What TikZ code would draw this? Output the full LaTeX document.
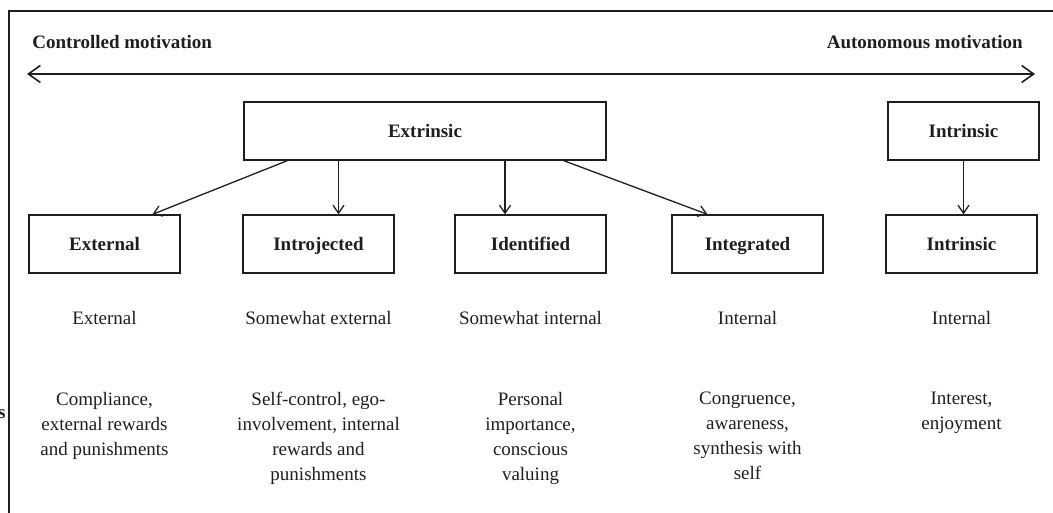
\documentclass[tikz,border=0pt]{standalone}
\usepackage{fontspec}
\setmainfont{Liberation Serif}
\usetikzlibrary{arrows.meta,positioning}
\definecolor{ink}{HTML}{1E1E1E}

\begin{document}
\begin{tikzpicture}[x=0.5pt,y=-0.5pt,font=\fontsize{9.5}{12.5}\selectfont,
  box/.style={draw=ink,line width=0.65pt,minimum width=75.5pt,minimum height=29pt,inner sep=0pt,text height=6.6pt,text depth=0.4pt,font=\fontsize{9.5}{12.5}\selectfont\bfseries,text=ink},
  arr/.style={draw=ink,line width=0.65pt,-{Straight Barb[length=4pt,width=5.5pt]}},
  head/.style={font=\fontsize{9.5}{12.5}\selectfont\bfseries,text=ink,inner sep=0pt},
  desc/.style={align=center,inner sep=0pt,text=ink}]
\useasboundingbox (0,0) rectangle (1053,513);
% frame, cut off at the right and bottom
\draw[ink,line width=1pt] (9,513) -- (9,11) -- (1053,11);
\node[head,anchor=base east] (cut) at (6,418) {s};
% the continuum
\node[head,anchor=west] (ctrl) at (32,42) {Controlled motivation};
\node[head,anchor=east] (auton) at (1023,42) {Autonomous motivation};
\coordinate (lo) at (27,74);
\coordinate (hi) at (1035,74);
\draw[ink,line width=0.8pt,{Straight Barb[length=6pt,width=8.5pt]}-{Straight Barb[length=6pt,width=8.5pt]}] (lo) -- (hi);
% top row
\node[box,minimum width=181pt] (extr) at (425,131) {Extrinsic};
\node[box] (intr) at (963.5,131) {Intrinsic};
% bottom row: box, locus, processes
\foreach \nm/\xx/\lab/\loc/\proc in {ext/104.5/External/External/{Compliance,\\external rewards\\and punishments},
  intro/318.5/Introjected/Somewhat external/{Self-control, ego-\\involvement, internal\\rewards and\\punishments},
  iden/530.5/Identified/Somewhat internal/{Personal\\importance,\\conscious\\valuing},
  integ/747.5/Integrated/Internal/{Congruence,\\awareness,\\synthesis with\\self},
  intrb/961.5/Intrinsic/Internal/{Interest,\\enjoyment}} {
  \node[box] (\nm) at (\xx,244) {\lab};
  \node[desc] (\nm-loc) at (\xx,318) {\loc};
  \node[desc,anchor=north] (\nm-proc) at (\xx,392) {\proc};
}
% arrows down from the two top boxes
\draw[arr] ([xshift=22pt]extr.south west) -- ([xshift=24pt]ext.north);
\draw[arr] ([xshift=10pt]intro.north |- extr.south) -- ([xshift=10pt]intro.north);
\draw[arr] ([xshift=-12.75pt]iden.north |- extr.south) -- ([xshift=-12.75pt]iden.north);
\draw[arr] ([xshift=-21.5pt]extr.south east) -- ([xshift=-20pt]integ.north);
\draw[arr] (intr.south) -- (intr.south |- intrb.north);
\end{tikzpicture}
\end{document}
